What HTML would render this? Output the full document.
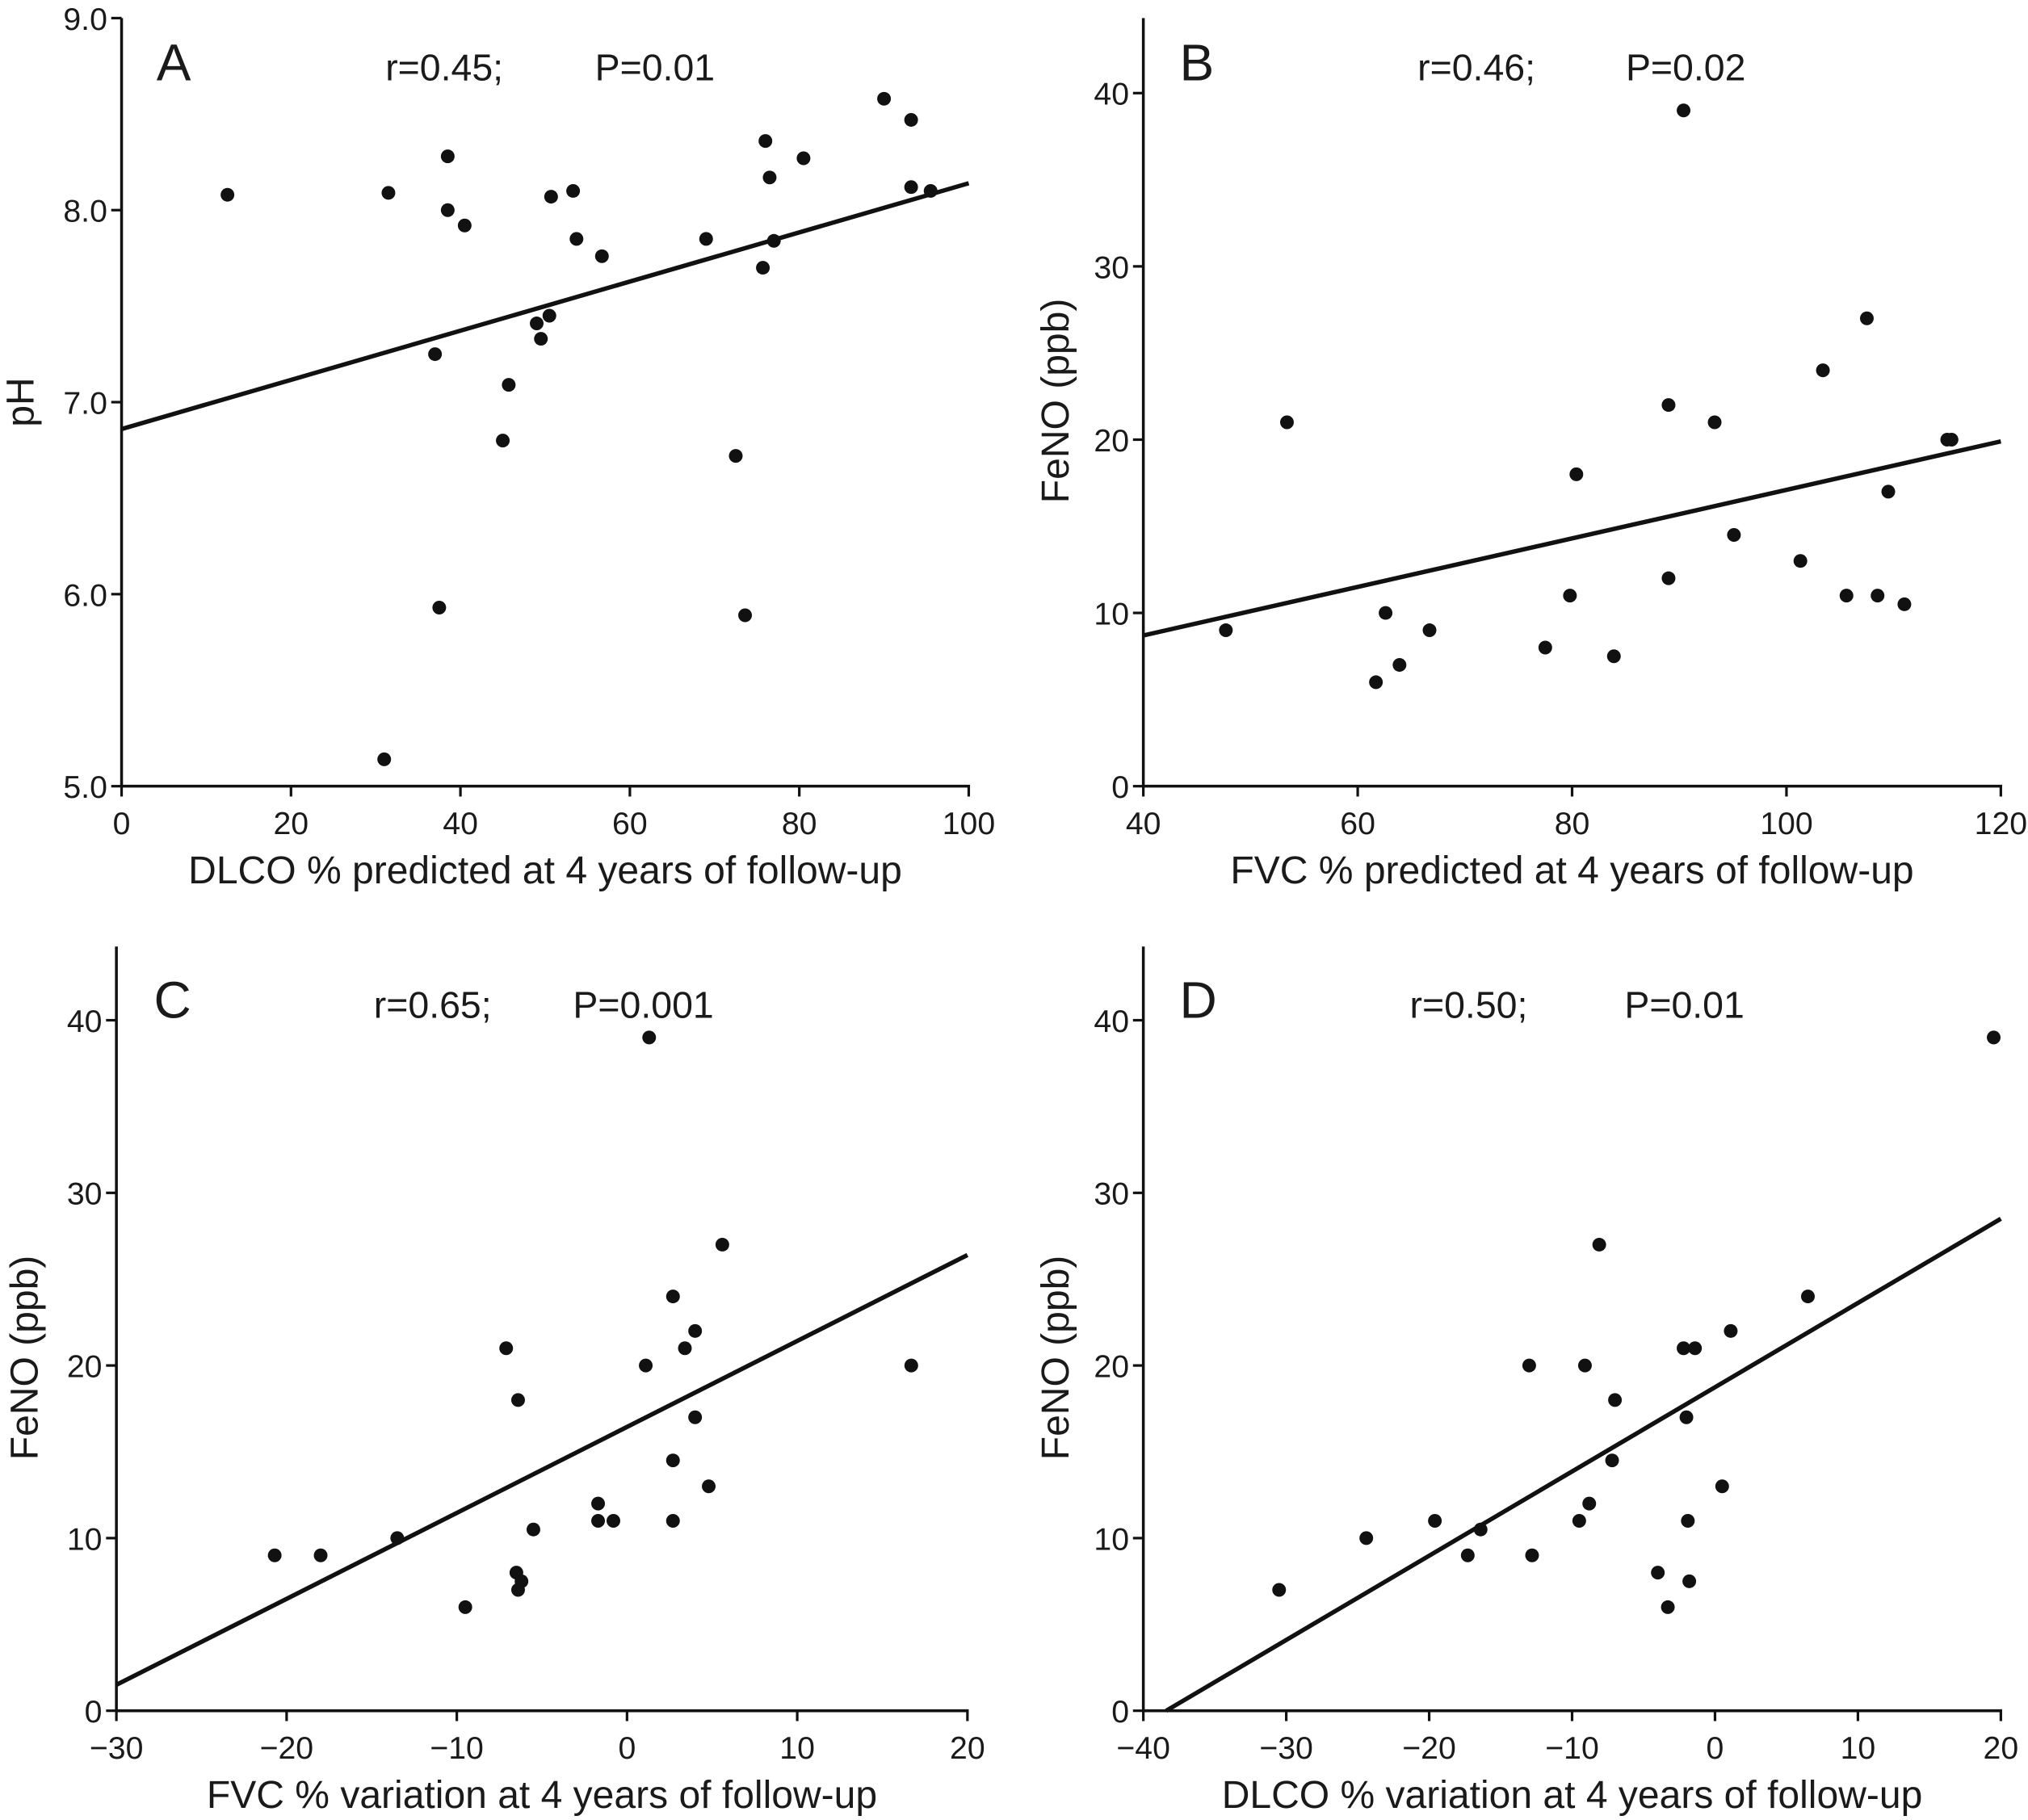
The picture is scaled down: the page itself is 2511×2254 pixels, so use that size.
<!DOCTYPE html>
<html><head><meta charset="utf-8"><style>
html,body{margin:0;padding:0;background:#fff}
svg{display:block}
text{font-family:"Liberation Sans",sans-serif;fill:#1a1a1a}
</style></head><body>
<svg id="fig" width="2511" height="2254" viewBox="0 0 1568 1407.5" preserveAspectRatio="none" xmlns="http://www.w3.org/2000/svg"></svg>
<script>
// Panel A data
const aX=[12.5,31.5,38.5,38.5,40.5,37,37.5,31,45,45.7,49,49.5,50.5,50.7,53.3,53.7,56.7,69,72.5,73.6,75.7,76,76.5,77,80.5,90,93.2,93.2,95.5];
const aY=[8.08,8.09,8.28,8.0,7.92,7.25,5.93,5.14,6.8,7.09,7.41,7.33,7.45,8.07,8.1,7.85,7.76,7.85,6.72,5.89,7.7,8.36,8.17,7.84,8.27,8.58,8.47,8.12,8.1];
const aFit=[[0,6.86],[100,8.14]];
const aXTicks=[0,20,40,60,80,100];
const aYTicks=[5.0,6.0,7.0,8.0,9.0];
// Panel B data
const bX=[47.7,53.4,61.7,62.6,63.9,66.7,77.5,79.8,80.4,83.9,89,89,90.4,93.3,95.1,101.3,103.4,107.5,105.6,108.5,109.5,111,115,115.4];
const bY=[9,21,6,10,7,9,8,11,18,7.5,22,12,39,21,14.5,13,24,27,11,11,17,10.5,20,20];
const bFit=[[40,8.7],[120,19.9]];
const bXTicks=[40,60,80,100,120];
const bYTicks=[0,10,20,30,40];
// Panel C data
const cX=[-20.7,-18,-13.5,-9.5,-7.1,-6.5,-6.4,-6.2,-6.4,-5.5,-1.7,-1.7,-0.8,1.1,1.3,2.7,2.7,2.7,3.4,4,4,4.8,5.6,16.7];
const cY=[9,9,10,6,21,8,7,7.5,18,10.5,12,11,11,20,39,24,14.5,11,21,22,17,13,27,20];
const cFit=[[-30,1.5],[20,26.4]];
const cXTicks=[-30,-20,-10,0,10,20];
const cYTicks=[0,10,20,30,40];
// Panel D data
const dX=[-30.5,-24.4,-19.6,-17.3,-16.4,-13,-12.8,-9.5,-9.1,-8.8,-8.1,-7,-7.2,-4,-3.3,-2.2,-1.4,-2,-1.9,-1.8,0.5,1.1,6.5,19.5];
const dY=[7,10,11,9,10.5,20,9,11,20,12,27,18,14.5,8,6,21,21,17,11,7.5,13,22,24,39];
const dFit=[[-38.4,0],[20,28.5]];
const dXTicks=[-40,-30,-20,-10,0,10,20];
const dYTicks=[0,10,20,30,40];

const NS="http://www.w3.org/2000/svg";
const svg=document.getElementById('fig');
function el(tag,attrs,parent){const e=document.createElementNS(NS,tag);for(const k in attrs)e.setAttribute(k,attrs[k]);(parent||svg).appendChild(e);return e;}
function fmtY(v,dec){return dec?v.toFixed(1):String(v);}
function fmtX(v){return v<0?'\u2212'+(-v):String(v);}

function panel(cfg){
  const g=el('g',{});
  
  
  const sx=v=>cfg.x0+(v-cfg.xmin)/(cfg.xmax-cfg.xmin)*(cfg.x1-cfg.x0);
  const sy=v=>cfg.y0-(v-cfg.ymin)/(cfg.ymax-cfg.ymin)*(cfg.y0-cfg.y1);
  const yax=el('line',{x1:cfg.x0,y1:cfg.top,x2:cfg.x0,y2:cfg.y0,stroke:'#111','stroke-width':2.2},g);
  
  
  const xax=el('line',{x1:cfg.x0-1,y1:cfg.y0,x2:sx(cfg.xmax)+1,y2:cfg.y0,stroke:'#111','stroke-width':2.2},g);
  
  
  cfg.yt.forEach(v=>{
    el('line',{x1:cfg.x0-8,y1:sy(v),x2:cfg.x0,y2:sy(v),stroke:'#111','stroke-width':2},g);
    const t=el('text',{x:cfg.x0-11,y:sy(v)+9,'font-size':24.5,'text-anchor':'end'},g);
    t.textContent=fmtY(v,cfg.dec);
    
    
  });
  cfg.xt.forEach(v=>{
    el('line',{x1:sx(v),y1:cfg.y0,x2:sx(v),y2:cfg.y0+8,stroke:'#111','stroke-width':2},g);
    const t=el('text',{x:sx(v),y:cfg.y0+37,'font-size':24.5,'text-anchor':'middle'},g);
    t.textContent=fmtX(v);
    
    
  });
  const fl=el('line',{x1:sx(cfg.fit[0][0]),y1:sy(cfg.fit[0][1]),x2:sx(cfg.fit[1][0]),y2:sy(cfg.fit[1][1]),stroke:'#111','stroke-width':3.4},g);
  
  
  cfg.xs.forEach((v,i)=>{
    const c=el('circle',{cx:sx(v),cy:sy(cfg.ys[i]),r:5.3,fill:'#111'},g);
    
    
  });
  const L=el('text',{x:cfg.lx,y:cfg.ly,'font-size':40},g);
  L.textContent=cfg.id;
  
  
  const r=el('text',{x:cfg.rx,y:cfg.ly,'font-size':29},g);
  r.textContent=cfg.r;
  
  
  const p=el('text',{x:cfg.px,y:cfg.ly,'font-size':29},g);
  p.textContent=cfg.p;
  
  
  const xt=el('text',{x:(cfg.x0+sx(cfg.xmax))/2,y:cfg.y0+75,'font-size':30,'text-anchor':'middle'},g);
  xt.textContent=cfg.xtitle;
  
  
  const yt=el('text',{x:0,y:0,'font-size':30,'text-anchor':'middle',transform:'translate('+cfg.ytx+','+cfg.yty+') rotate(-90)'},g);
  yt.textContent=cfg.ytitle;
  
  
}
panel({id:'A',x0:94,x1:749,xmin:0,xmax:100,y0:608,y1:14,ymin:5,ymax:9,top:14,dec:true,xt:aXTicks,yt:aYTicks,xs:aX,ys:aY,fit:aFit,lx:121,ly:62,rx:298,px:460,r:'r=0.45;',p:'P=0.01',xtitle:'DLCO % predicted at 4 years of follow-up',ytitle:'pH',ytx:26,yty:311});
panel({id:'B',x0:884,x1:1547,xmin:40,xmax:120,y0:608,y1:72,ymin:0,ymax:40,top:14,dec:false,xt:bXTicks,yt:bYTicks,xs:bX,ys:bY,fit:bFit,lx:912,ly:62,rx:1096,px:1257,r:'r=0.46;',p:'P=0.02',xtitle:'FVC % predicted at 4 years of follow-up',ytitle:'FeNO (ppb)',ytx:826,yty:310});
panel({id:'C',x0:90,x1:748,xmin:-30,xmax:20,y0:1323,y1:789,ymin:0,ymax:40,top:732,dec:false,xt:cXTicks,yt:cYTicks,xs:cX,ys:cY,fit:cFit,lx:119,ly:787,rx:289,px:443,r:'r=0.65;',p:'P=0.001',xtitle:'FVC % variation at 4 years of follow-up',ytitle:'FeNO (ppb)',ytx:29,yty:1050});
panel({id:'D',x0:884,x1:1547,xmin:-40,xmax:20,y0:1323,y1:789,ymin:0,ymax:40,top:732,dec:false,xt:dXTicks,yt:dYTicks,xs:dX,ys:dY,fit:dFit,lx:912,ly:787,rx:1090,px:1256,r:'r=0.50;',p:'P=0.01',xtitle:'DLCO % variation at 4 years of follow-up',ytitle:'FeNO (ppb)',ytx:826,yty:1050});
</script>
</body></html>
